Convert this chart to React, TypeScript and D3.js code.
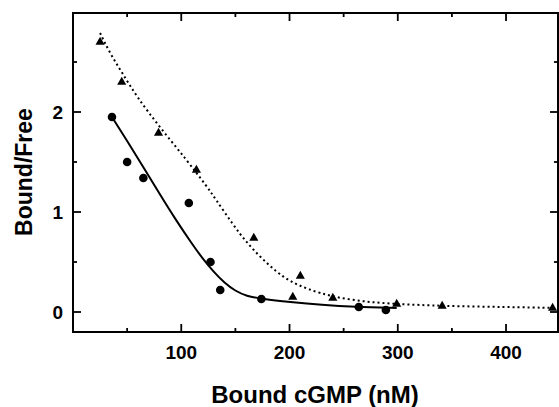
import React, { useEffect, useRef } from "react";
import * as d3 from "d3";

// measured points (nM, Bound/Free)
const circleX = [36, 50, 65, 107, 127, 136, 174, 264, 289];
const circleY = [1.95, 1.5, 1.34, 1.09, 0.5, 0.22, 0.13, 0.05, 0.02];
const triangleX = [25, 45, 79, 114, 167, 210, 203, 240, 299, 341, 443];
const triangleY = [2.7, 2.3, 1.79, 1.42, 0.74, 0.36, 0.15, 0.14, 0.08, 0.06, 0.04];

// fitted curves
const solidX = [36, 50, 65, 80, 95, 110, 120, 130, 140, 150, 160, 175, 200, 230, 260, 299];
const solidY = [1.95, 1.71, 1.45, 1.18, 0.92, 0.68, 0.53, 0.4, 0.29, 0.21, 0.16, 0.13, 0.1, 0.07, 0.05, 0.04];
const dottedX = [25, 34, 45, 59, 80, 105, 124, 131, 148, 160, 173, 188, 200, 216, 240, 271, 299, 341, 400, 448];
const dottedY = [2.79, 2.59, 2.4, 2.15, 1.85, 1.52, 1.25, 1.14, 0.87, 0.7, 0.55, 0.4, 0.31, 0.23, 0.15, 0.1, 0.08, 0.06, 0.05, 0.04];

const xMajor = [100, 200, 300, 400];
const xMinor = [50, 150, 250, 350];
const yMajor = [0, 1, 2];
const yMinor = [0.5, 1.5, 2.5];

const width = 559;
const height = 407;
const left = 73, right = 558, top = 13, bottom = 332;
const font = "'Liberation Sans', Arial, Helvetica, sans-serif";

export default function App() {
  const ref = useRef<SVGSVGElement>(null);

  useEffect(() => {
    const svg = d3.select(ref.current);
    svg.selectAll("*").remove();

    const x = d3.scaleLinear().domain([0, 448]).range([left, right]);
    const y = d3.scaleLinear().domain([-0.2, 2.99]).range([bottom, top]);

    // frame
    svg.append("rect")
      .attr("x", left).attr("y", top)
      .attr("width", right - left).attr("height", bottom - top)
      .attr("fill", "none").attr("stroke", "#000").attr("stroke-width", 2);

    const tickG = svg.append("g").attr("stroke", "#000").attr("stroke-width", 1.8);
    const xt = (vals: number[], len: number) => {
      vals.forEach(v => {
        tickG.append("line").attr("x1", x(v)).attr("x2", x(v)).attr("y1", bottom).attr("y2", bottom - len);
        tickG.append("line").attr("x1", x(v)).attr("x2", x(v)).attr("y1", top).attr("y2", top + len);
      });
    };
    const yt = (vals: number[], len: number) => {
      vals.forEach(v => {
        tickG.append("line").attr("y1", y(v)).attr("y2", y(v)).attr("x1", left).attr("x2", left + len);
        tickG.append("line").attr("y1", y(v)).attr("y2", y(v)).attr("x1", right).attr("x2", right - len);
      });
    };
    xt(xMajor, 8); xt(xMinor, 4);
    yt(yMajor, 8); yt(yMinor, 4);

    // tick labels
    svg.append("g").selectAll("text").data(xMajor).join("text")
      .attr("x", d => x(d)).attr("y", 359)
      .attr("text-anchor", "middle")
      .style("font-family", font).style("font-weight", "bold").style("font-size", "19px")
      .text(d => d);
    svg.append("g").selectAll("text").data(yMajor).join("text")
      .attr("x", 63).attr("y", d => y(d) + 7)
      .attr("text-anchor", "end")
      .style("font-family", font).style("font-weight", "bold").style("font-size", "19px")
      .text(d => d);

    // axis titles
    svg.append("text")
      .attr("x", 315).attr("y", 403)
      .attr("text-anchor", "middle")
      .style("font-family", font).style("font-weight", "bold").style("font-size", "24px")
      .text("Bound cGMP (nM)");
    svg.append("text")
      .attr("transform", "translate(32,172) rotate(-90)")
      .attr("text-anchor", "middle")
      .style("font-family", font).style("font-weight", "bold").style("font-size", "23px")
      .text("Bound/Free");

    const line = d3.line<number>().curve(d3.curveBasis);

    svg.append("path")
      .attr("d", line.x(i => x(solidX[i])).y(i => y(solidY[i]))(d3.range(solidX.length)))
      .attr("fill", "none").attr("stroke", "#000").attr("stroke-width", 2);

    svg.append("path")
      .attr("d", line.x(i => x(dottedX[i])).y(i => y(dottedY[i]))(d3.range(dottedX.length)))
      .attr("fill", "none").attr("stroke", "#000").attr("stroke-width", 2)
      .attr("stroke-dasharray", "2,3");

    svg.append("g").selectAll("circle").data(d3.range(circleX.length)).join("circle")
      .attr("cx", i => x(circleX[i])).attr("cy", i => y(circleY[i]))
      .attr("r", 4.3).attr("fill", "#000");

    const tri = d3.symbol().type(d3.symbolTriangle).size(36);
    svg.append("g").selectAll("path").data(d3.range(triangleX.length)).join("path")
      .attr("transform", i => `translate(${x(triangleX[i])},${y(triangleY[i])})`)
      .attr("d", tri()!).attr("fill", "#000");
  }, []);

  return (
    <svg ref={ref} width={width} height={height}
      style={{ position: "absolute", left: 0, top: 0, background: "#fff" }} />
  );
}
